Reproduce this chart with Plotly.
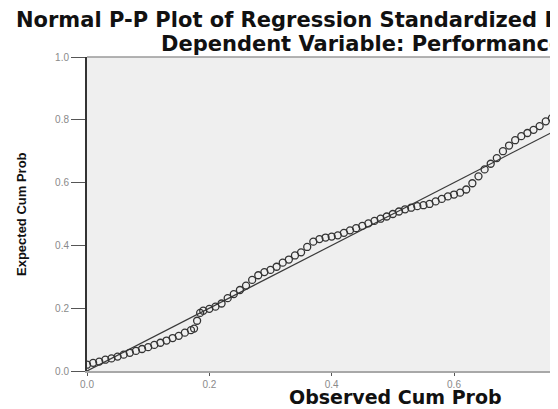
import plotly.graph_objects as go

# Observed cumulative probability (x) and expected cumulative probability (y)
observed_cum_prob = [
    0.000, 0.010, 0.020, 0.030, 0.040, 0.050, 0.060, 0.070, 0.080, 0.090,
    0.100, 0.110, 0.120, 0.130, 0.140, 0.150, 0.160, 0.170, 0.175, 0.180,
    0.185, 0.190, 0.200, 0.210, 0.220, 0.230, 0.240, 0.250, 0.260, 0.270,
    0.280, 0.290, 0.300, 0.310, 0.320, 0.330, 0.340, 0.350, 0.360, 0.370,
    0.380, 0.390, 0.400, 0.410, 0.420, 0.430, 0.440, 0.450, 0.460, 0.470,
    0.480, 0.490, 0.500, 0.510, 0.520, 0.530, 0.540, 0.550, 0.560, 0.570,
    0.580, 0.590, 0.600, 0.610, 0.620, 0.630, 0.640, 0.650, 0.660, 0.670,
    0.680, 0.690, 0.700, 0.710, 0.720, 0.730, 0.740, 0.750, 0.760, 0.770,
    0.780,
]
expected_cum_prob = [
    0.020, 0.026, 0.030, 0.036, 0.040, 0.046, 0.052, 0.058, 0.064, 0.070,
    0.076, 0.083, 0.090, 0.097, 0.105, 0.112, 0.122, 0.130, 0.135, 0.160,
    0.185, 0.192, 0.198, 0.205, 0.215, 0.232, 0.245, 0.258, 0.272, 0.290,
    0.305, 0.315, 0.322, 0.332, 0.345, 0.355, 0.368, 0.378, 0.395, 0.412,
    0.420, 0.425, 0.428, 0.432, 0.440, 0.448, 0.455, 0.462, 0.470, 0.478,
    0.485, 0.492, 0.500, 0.508, 0.515, 0.520, 0.525, 0.528, 0.532, 0.540,
    0.548, 0.556, 0.562, 0.568, 0.578, 0.598, 0.620, 0.642, 0.660, 0.678,
    0.700, 0.718, 0.735, 0.748, 0.758, 0.768, 0.780, 0.795, 0.805, 0.808,
    0.812,
]
reference_line = [0.0, 1.0]
tick_values = [0.0, 0.2, 0.4, 0.6, 0.8, 1.0]

title_line1 = "Normal P-P Plot of Regression Standardized Residual"
title_line2 = "Dependent Variable: Performance"
x_title = "Observed Cum Prob"
y_title = "Expected Cum Prob"

# page body has an 8px default margin; compensate so window pixels match
OFF = 8
WIN_W, WIN_H = 558, 409
W, H = WIN_W - OFF, WIN_H - OFF
PLOT_LEFT, PLOT_TOP, PLOT_BOTTOM = 87, 57, 371  # window pixels
L = PLOT_LEFT - OFF
T = PLOT_TOP - OFF
B = H - (PLOT_BOTTOM - OFF)
R = 0
pw = W - L - R
ph = H - T - B


def xp(px):
    return (px - PLOT_LEFT) / pw


def yp(py):
    return (PLOT_BOTTOM - py) / ph


fig = go.Figure()
fig.add_trace(go.Scatter(
    x=reference_line, y=reference_line, mode="lines",
    line=dict(color="#3a3a3a", width=1.2), hoverinfo="skip", showlegend=False,
))
fig.add_trace(go.Scatter(
    x=observed_cum_prob, y=expected_cum_prob, mode="markers",
    marker=dict(symbol="circle-open", size=7, color="#333333",
                line=dict(width=1.3, color="#333333")),
    showlegend=False,
))

title_font = dict(family="DejaVu Sans", size=21, color="#111", weight="bold")

fig.update_layout(
    width=W, height=H,
    margin=dict(l=L, r=R, t=T, b=B, pad=0),
    paper_bgcolor="white",
    plot_bgcolor="#efefef",
    font=dict(family="DejaVu Sans", color="#111"),
    xaxis=dict(
        range=[0, 0.77], tickvals=tick_values, tickformat=".1f",
        showgrid=False, zeroline=False,
        showline=True, linecolor="#a8a8a8", linewidth=2,
        ticks="outside", ticklen=3, tickcolor="#555", tickwidth=1,
        tickfont=dict(family="Liberation Sans", size=10, color="#8a8a8a"),
    ),
    yaxis=dict(
        range=[0, 1], tickvals=tick_values, tickformat=".1f",
        showgrid=False, zeroline=False,
        showline=True, linecolor="#333333", linewidth=2,
        ticks="outside", ticklen=14, tickcolor="#555", tickwidth=1,
        tickfont=dict(family="Liberation Sans", size=10, color="#8a8a8a"),
    ),
    shapes=[dict(type="line", xref="paper", yref="paper", x0=0, x1=1, y0=1, y1=1,
                 line=dict(color="#9a9a9a", width=1.5))],
    annotations=[
        dict(text=title_line1, xref="paper", yref="paper",
             x=xp(14), xanchor="left", y=yp(20), yanchor="middle",
             showarrow=False, font=title_font),
        dict(text=title_line2, xref="paper", yref="paper",
             x=xp(159), xanchor="left", y=yp(44), yanchor="middle",
             showarrow=False, font=title_font),
        dict(text=x_title, xref="paper", yref="paper",
             x=xp(395), xanchor="center", y=yp(397), yanchor="middle",
             showarrow=False,
             font=dict(family="DejaVu Sans", size=19, color="#111", weight="bold")),
        dict(text=y_title, xref="paper", yref="paper",
             x=xp(21), xanchor="center", y=0.5, yanchor="middle",
             showarrow=False, textangle=-90,
             font=dict(family="Liberation Sans Narrow, Liberation Sans", size=13,
                       color="#111", weight="bold")),
    ],
)

fig.write_html("out.html")
